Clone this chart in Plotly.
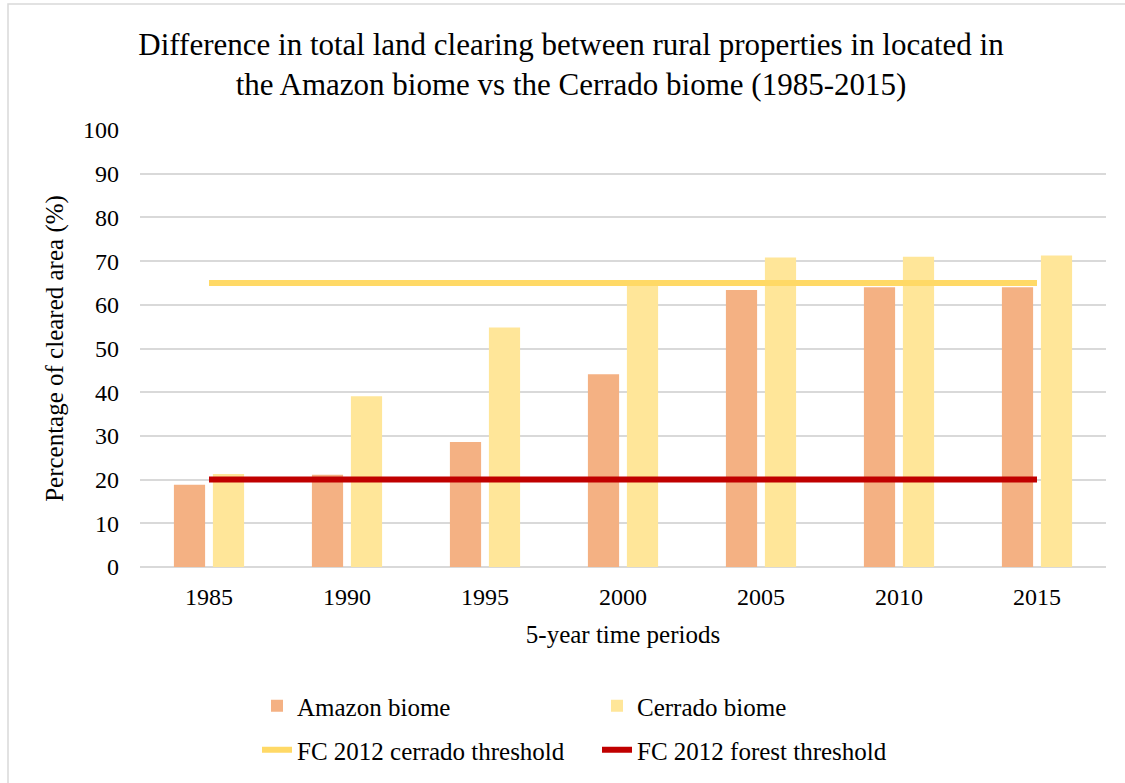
import plotly.graph_objects as go

years = ["1985", "1990", "1995", "2000", "2005", "2010", "2015"]
amazon = [18.8, 21.1, 28.6, 44.1, 63.4, 64.0, 64.0]
cerrado = [21.3, 39.1, 54.8, 64.4, 70.8, 71.0, 71.3]
cerrado_threshold = [65, 65, 65, 65, 65, 65, 65]
forest_threshold = [20, 20, 20, 20, 20, 20, 20]
y_ticks = [0, 10, 20, 30, 40, 50, 60, 70, 80, 90, 100]

FONT = "Liberation Serif"
W, H = 1125, 783
L, R, T, B = 140, 19, 130, 216
pw, ph = W - L - R, H - T - B

fig = go.Figure()
fig.add_trace(go.Bar(x=years, y=amazon, name="Amazon biome",
                     marker=dict(color="#F4B183", line=dict(width=0)), legend="legend"))
fig.add_trace(go.Bar(x=years, y=cerrado, name="Cerrado biome",
                     marker=dict(color="#FFE699", line=dict(width=0)), legend="legend"))
fig.add_trace(go.Scatter(x=years, y=cerrado_threshold, mode="lines",
                         name="FC 2012 cerrado threshold",
                         line=dict(color="#FFD966", width=6), legend="legend2"))
fig.add_trace(go.Scatter(x=years, y=forest_threshold, mode="lines",
                         name="FC 2012 forest threshold",
                         line=dict(color="#C00000", width=6), legend="legend2"))

def px_x(p):
    return (p - L) / pw

def px_y(p):
    return (H - B - p) / ph

legend_common = dict(orientation="h", xanchor="left", yanchor="middle",
                     entrywidth=295, entrywidthmode="pixels",
                     font=dict(family=FONT, size=25, color="#000000"),
                     bgcolor="rgba(0,0,0,0)", borderwidth=0,
                     xref="paper", yref="paper", traceorder="normal")

fig.update_layout(
    width=W, height=H,
    margin=dict(l=L, r=R, t=T, b=B, autoexpand=False),
    paper_bgcolor="white", plot_bgcolor="white",
    barmode="group", bargap=0.435, bargroupgap=0.2,
    font=dict(family=FONT, size=24, color="#000000"),
    title=dict(
        text="Difference in total land clearing between rural properties in located in<br>"
             "the Amazon biome vs the Cerrado biome (1985-2015)",
        x=571 / W, xanchor="center", xref="container",
        y=1 - 55 / H, yanchor="top", yref="container",
        font=dict(family=FONT, size=31, color="#000000"),
    ),
    xaxis=dict(
        type="category", showgrid=False, showline=False, ticks="",
        ticklabelstandoff=13,
        tickfont=dict(family=FONT, size=24, color="#000000"),
        title=dict(text="5-year time periods", standoff=16,
                   font=dict(family=FONT, size=25, color="#000000")),
    ),
    yaxis=dict(
        range=[0, 100], tickvals=y_ticks, showgrid=True,
        gridcolor="#D9D9D9", gridwidth=1.5,
        zeroline=True, zerolinecolor="#D9D9D9", zerolinewidth=1.5,
        showline=False, ticks="", ticklabelstandoff=20,
        tickfont=dict(family=FONT, size=24, color="#000000"),
        title=dict(text="Percentage of cleared area (%)", standoff=12,
                   font=dict(family=FONT, size=25, color="#000000")),
    ),
    legend=dict(x=px_x(257), y=px_y(706), **legend_common),
    legend2=dict(x=px_x(257), y=px_y(750), **legend_common),
    shapes=[dict(type="rect", xref="paper", yref="paper",
                 x0=px_x(8), x1=px_x(1140), y0=px_y(800), y1=px_y(4),
                 line=dict(color="#D9D9D9", width=1.5), layer="below")],
)

fig.write_html("out.html", config={"displayModeBar": False},
               post_script="document.body.style.margin='0';")
